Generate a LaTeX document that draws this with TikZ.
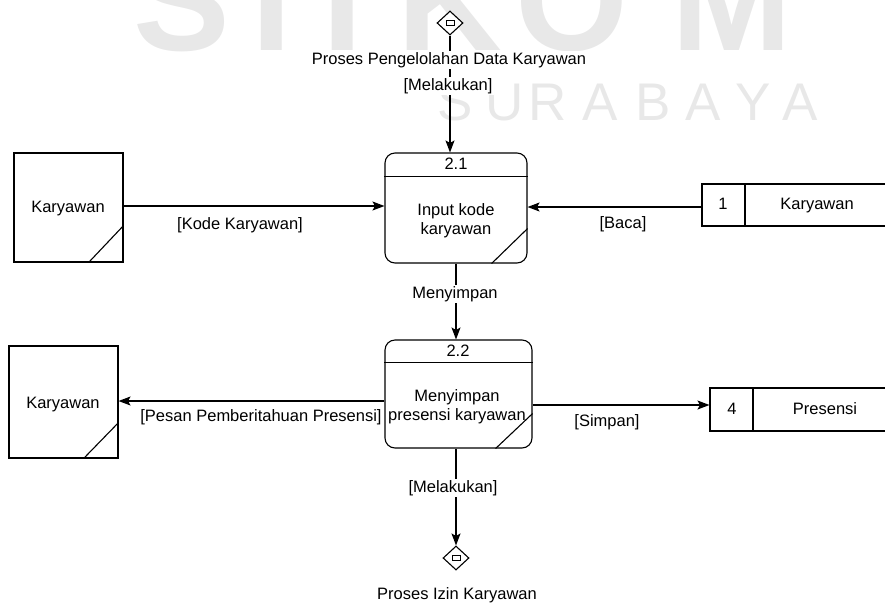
\documentclass[tikz,border=0pt]{standalone}
\usepackage{fontspec}
\setmainfont{Liberation Sans}
\usetikzlibrary{arrows.meta,shapes.geometric}
\definecolor{wmgray}{RGB}{232,232,232}
\tikzset{
  every node/.style={font=\fontsize{16.5}{19}\selectfont, inner sep=1.5pt},
  txt/.style={text height=11.5pt, text depth=3.5pt},
  lw/.style={line width=1.1pt},
  flow/.style={lw, -{Stealth[length=12pt,width=9pt,inset=2.5pt]}},
  proc/.style={draw, lw, rounded corners=10pt, fill=white, minimum width=#1, minimum height=110pt},
  entity/.style={draw, lw, fill=white, minimum width=109pt, minimum height=109pt},
  store/.style={draw, lw, fill=white, minimum width=190pt, minimum height=42pt},
  offpage/.style={draw, lw, diamond, fill=white, minimum width=26pt, minimum height=24pt, inner sep=0pt},
  lbl/.style={txt, fill=white},
  wmsmall/.style={text=wmgray, font=\fontsize{53}{60}\selectfont, inner sep=0pt},
  wmbig/.style={text=wmgray, font=\fontsize{145}{160}\selectfont\bfseries, inner sep=0pt}
}
\begin{document}
\begin{tikzpicture}[x=1pt,y=-1pt]
\useasboundingbox (0,0) rectangle (885,603);

% background lettering
\begin{scope}
  \clip (0,0) rectangle (885,603);
  \foreach \ch/\xx [count=\i] in {S/182,T/272,I/343,K/450,O/572,M/732}
    \node[wmbig, anchor=base] (wmt\i) at (\xx,50) {\ch};
  \foreach \ch/\xx [count=\i] in {S/455,U/505,R/548,A/600,B/653,A/703,Y/753,A/800}
    \node[wmsmall, anchor=base] (wmb\i) at (\xx,120) {\ch};
\end{scope}

% off-page connectors
\node[offpage] (dtop) at (450,23) {};
\draw[line width=0.8pt] ([shift={(-4,-2.5)}]dtop.center) rectangle ([shift={(4,2.5)}]dtop.center);
\node[offpage] (dbot) at (456,558) {};
\draw[line width=0.8pt] ([shift={(-4,-2.5)}]dbot.center) rectangle ([shift={(4,2.5)}]dbot.center);
\node[txt] (dbottxt) at (457,595) {Proses Izin Karyawan};

% processes
\node[proc=142pt] (p1) at (456,208) {};
\draw[lw] ([yshift=-24pt]p1.north west) -- ([yshift=-24pt]p1.north east);
\draw[lw] ([xshift=-36pt]p1.south east) -- ([yshift=35pt]p1.south east);
\node[txt] (p1id) at (456,165) {2.1};
\node[align=center] (p1txt) at (456,220.5) {Input kode\\karyawan};

\node[proc=147pt, minimum height=108pt] (p2) at (458.5,394) {};
\draw[lw] ([yshift=-23pt]p2.north west) -- ([yshift=-23pt]p2.north east);
\draw[lw] ([xshift=-37pt]p2.south east) -- ([yshift=35pt]p2.south east);
\node[txt] (p2id) at (458,352) {2.2};
\node[align=center] (p2txt) at (457,406.5) {Menyimpan\\presensi karyawan};

% external entities
\node[entity] (e1) at (68.5,207.5) {};
\draw[lw] ([xshift=-35pt]e1.south east) -- ([yshift=37pt]e1.south east);
\node[txt] (e1txt) at (68,208) {Karyawan};

\node[entity, minimum height=112pt] (e2) at (63.5,402) {};
\draw[lw] ([xshift=-35pt]e2.south east) -- ([yshift=36pt]e2.south east);
\node[txt] (e2txt) at (63,404) {Karyawan};

% data stores
\node[store] (s1) at (797,205) {};
\draw[lw] (745,0 |- s1.north) -- (745,0 |- s1.south);
\node[txt] (s1id) at (723,205) {1};
\node[txt] (s1txt) at (817,205) {Karyawan};

\node[store, minimum height=43pt] (s4) at (805,409.5) {};
\draw[lw] (753,0 |- s4.north) -- (753,0 |- s4.south);
\node[txt] (s4id) at (732,410) {4};
\node[txt] (s4txt) at (825,410) {Presensi};

% data flows
\draw[flow] (dtop.south) -- (dtop.south |- p1.north);
\node[lbl] (ltop1) at (449,60) {Proses Pengelolahan Data Karyawan};
\node[lbl] (ltop2) at (448,86) {[Melakukan]};

\draw[flow] (e1.east |- 0,206) -- (p1.west |- 0,206);
\node[txt] (lkode) at (240,225) {[Kode Karyawan]};

\draw[flow] (s1.west |- 0,207) -- (p1.east |- 0,207);
\node[txt] (lbaca) at (623,224) {[Baca]};

\draw[flow] (p1.south) -- (p1.south |- p2.north);
\node[lbl] (lsimpan1) at (455,294) {Menyimpan};

\draw[flow] (p2.west |- 0,401) -- (e2.east |- 0,401);
\node[txt] (lpesan) at (261,417) {[Pesan Pemberitahuan Presensi]};

\draw[flow] (p2.east |- 0,405) -- (s4.west |- 0,405);
\node[txt] (lsimpan2) at (607,422) {[Simpan]};

\draw[flow] (dbot.north |- p2.south) -- (dbot.north);
\node[lbl] (lbot) at (453,488) {[Melakukan]};
\end{tikzpicture}
\end{document}
